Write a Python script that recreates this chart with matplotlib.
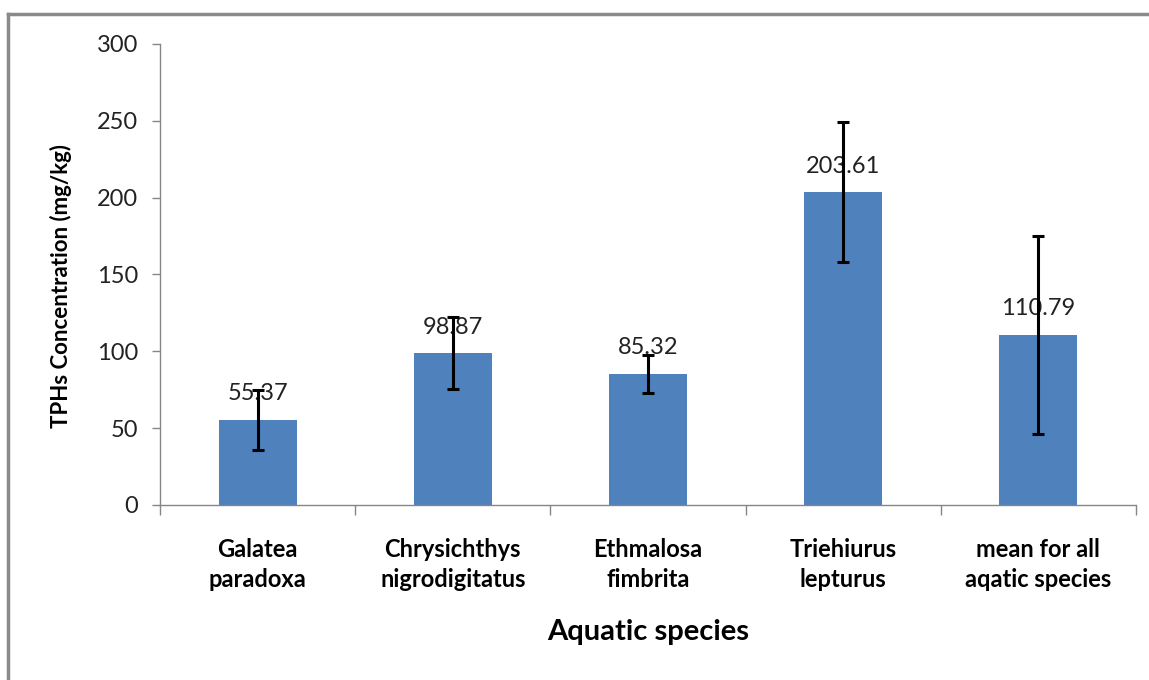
import matplotlib.pyplot as plt
from matplotlib.lines import Line2D

species = ["Galatea\nparadoxa", "Chrysichthys\nnigrodigitatus", "Ethmalosa\nfimbrita",
           "Triehiurus\nlepturus", "mean for all\naqatic species"]
tphs = [55.37, 98.87, 85.32, 203.61, 110.79]
err = [19.7, 23.7, 12.3, 45.6, 64.4]
yticks = [0, 50, 100, 150, 200, 250, 300]

plt.rcParams['font.family'] = ['Lato', 'DejaVu Sans']

fig = plt.figure(figsize=(11.49, 6.8), dpi=100)
ax = fig.add_axes([0.1393, 0.2574, 0.8494, 0.6779])

x = range(len(species))
ax.bar(x, tphs, width=0.4, color='#4F81BD', zorder=2)
ax.errorbar(x, tphs, yerr=err, fmt='none', ecolor='black', elinewidth=2.2,
            capsize=4.5, capthick=2.2, zorder=3)
for i, v in enumerate(tphs):
    ax.annotate(f"{v:.2f}", (i, v), xytext=(0, 14), textcoords='offset points',
                ha='center', va='baseline', fontsize=17, color='#222222', zorder=1)

ax.set_xlim(-0.5, len(species) - 0.5)
ax.set_ylim(0, 300)
ax.set_yticks(yticks)
ax.tick_params(axis='y', labelsize=17, length=6, width=1, color='#868686',
               labelcolor='#222222', pad=10)
ax.set_xticks(list(x))
ax.set_xticklabels(species, fontsize=17, fontweight='bold', linespacing=1.35)
ax.tick_params(axis='x', which='major', length=0, pad=24)
ax.set_xticks([i - 0.5 for i in range(len(species) + 1)], minor=True)
ax.tick_params(axis='x', which='minor', length=7, width=1, color='#868686')

for s in ['top', 'right']:
    ax.spines[s].set_visible(False)
for s in ['left', 'bottom']:
    ax.spines[s].set_color('#868686')
    ax.spines[s].set_linewidth(1)

ax.set_xlabel("Aquatic species", fontsize=21, fontweight='bold', labelpad=20)
ax.set_ylabel("TPHs Concentration (mg/kg)", fontsize=16, fontweight='bold')
ax.yaxis.set_label_coords(-0.09, 0.475)

# outer chart border (top and left visible)
fig.add_artist(Line2D([8 / 1149, 1], [1 - 14 / 680, 1 - 14 / 680], color='#8a8a8a', lw=2.5,
                      transform=fig.transFigure))
fig.add_artist(Line2D([8 / 1149, 8 / 1149], [0, 1 - 14 / 680], color='#8a8a8a', lw=2.5,
                      transform=fig.transFigure))

fig.savefig('out.png', dpi=100)
